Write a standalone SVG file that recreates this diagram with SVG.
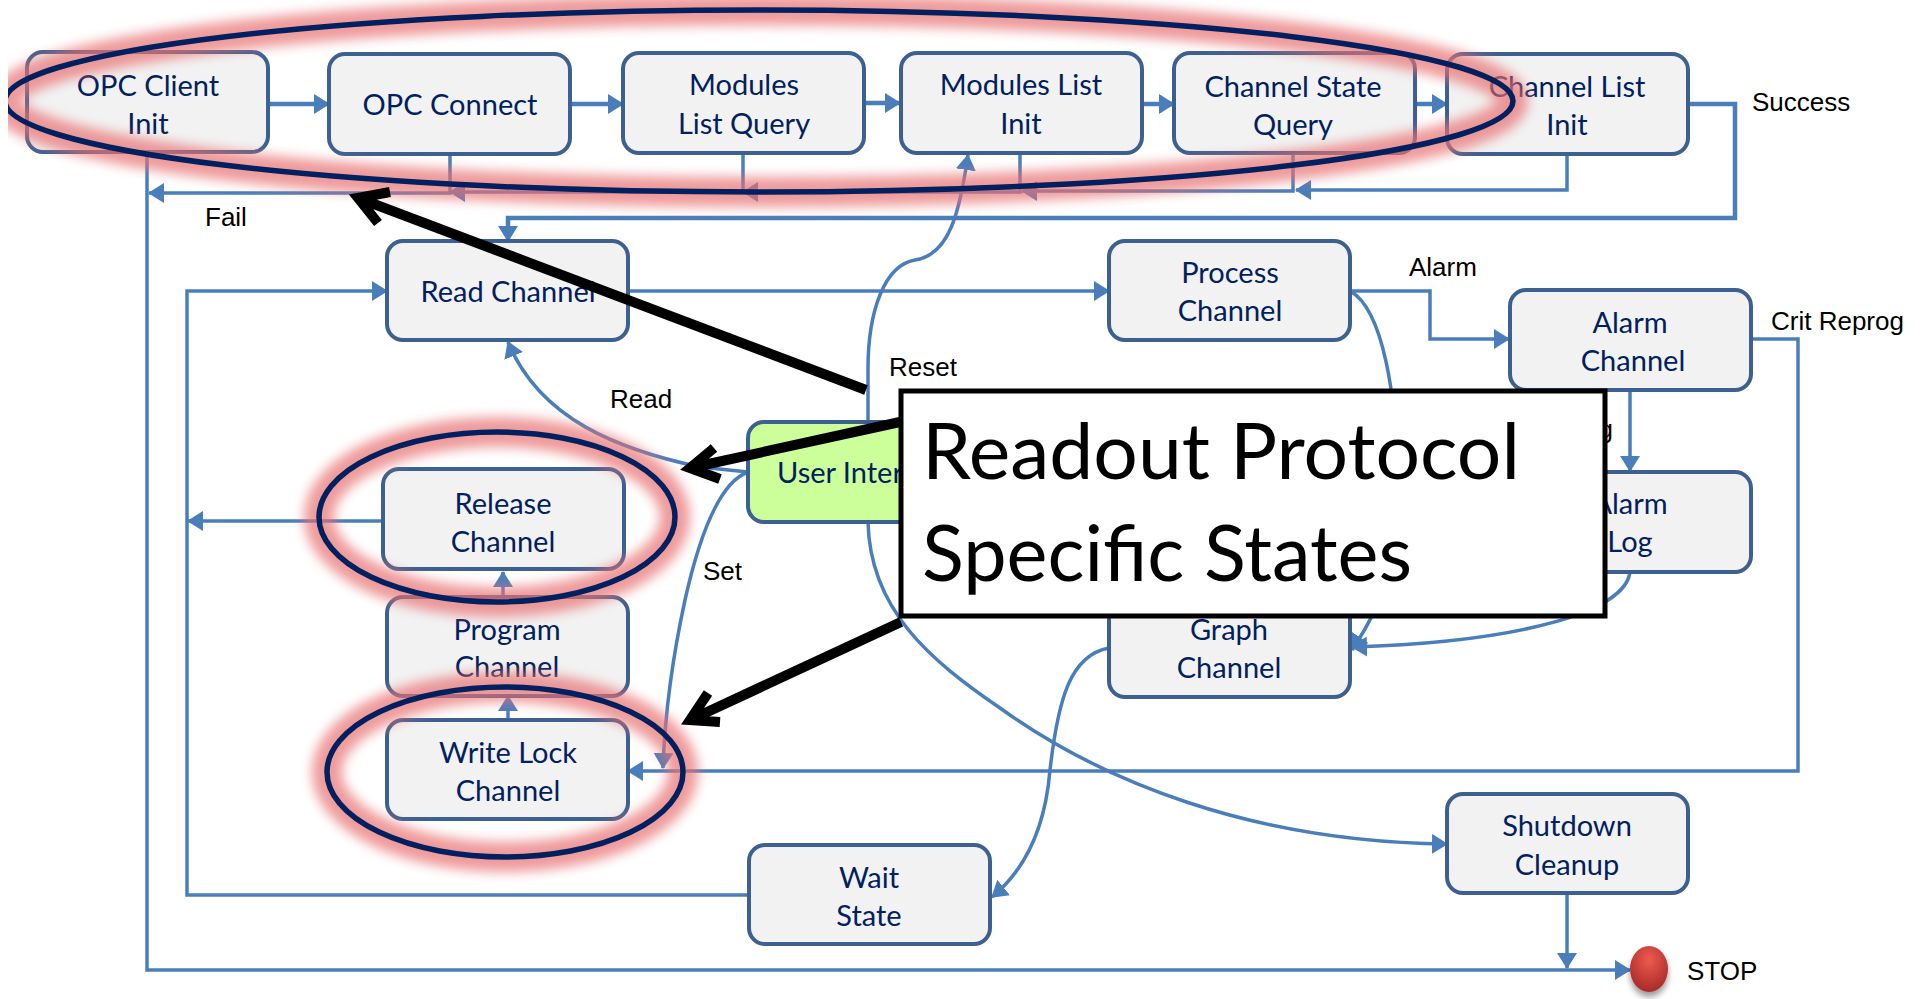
<svg xmlns="http://www.w3.org/2000/svg" width="1927" height="999" viewBox="0 0 1927 999">
<style>
.n{fill:#f2f2f2;stroke:#3c6090;stroke-width:4}
.t{font-family:Lato,"Liberation Sans",sans-serif;font-size:29px;fill:#002060;text-anchor:middle}
.l{font-family:"Liberation Sans",Arial,sans-serif;font-size:26px;fill:#000}
.c{fill:none;stroke:#4a7ebb;stroke-width:3.5}
.cb{fill:none;stroke:#4a7ebb;stroke-width:4.5}
.g{fill:none;stroke:#e86f6f;stroke-width:30;opacity:.7;filter:url(#b)}
.e{fill:none;stroke:#002060;stroke-width:5.5}
.k{fill:none;stroke:#000;stroke-width:10}
.big{font-family:Lato,"Liberation Sans",sans-serif;font-size:77px;fill:#000}
</style>
<defs>
<marker id="a" markerUnits="userSpaceOnUse" markerWidth="16" markerHeight="20" refX="15" refY="10" orient="auto"><path d="M0 0L16 10L0 20Z" fill="#4a7ebb"/></marker>
<filter id="b" x="-10%" y="-30%" width="120%" height="160%"><feGaussianBlur stdDeviation="6"/></filter>
<clipPath id="cp"><rect x="8" y="0" width="1919" height="999"/></clipPath>
<radialGradient id="r" cx=".5" cy=".3" r=".7"><stop offset="0" stop-color="#ee5a50"/><stop offset="1" stop-color="#a82a28"/></radialGradient>
<filter id="s" x="-30%" y="-30%" width="160%" height="170%"><feDropShadow dx="0" dy="5" stdDeviation="3" flood-color="#000" flood-opacity=".4"/></filter>
</defs>
<g id="connectors">
<path class="cb" d="M268 104H329" marker-end="url(#a)"/>
<path class="cb" d="M570 104H623" marker-end="url(#a)"/>
<path class="cb" d="M865 103H900" marker-end="url(#a)"/>
<path class="cb" d="M1142 104H1174" marker-end="url(#a)"/>
<path class="cb" d="M1415 104H1447" marker-end="url(#a)"/>
<path class="c" d="M1567 154V190H1296" marker-end="url(#a)"/>
<path class="c" d="M1293 153V191H1022" marker-end="url(#a)"/>
<path class="c" d="M1020 153V192H743" marker-end="url(#a)"/>
<path class="c" d="M743 153V192H450" marker-end="url(#a)"/>
<path class="c" d="M450 153V193H149" marker-end="url(#a)"/>
<path class="c" d="M147 152V970H1630" marker-end="url(#a)"/>
<path class="cb" d="M1687 104H1735V218H508V241" marker-end="url(#a)"/>
<path class="c" d="M628 291H1109" marker-end="url(#a)"/>
<path class="c" d="M1350 291H1430V339H1509" marker-end="url(#a)"/>
<path class="c" d="M1630 390V471" marker-end="url(#a)"/>
<path class="c" d="M1751 339H1798V771H628" marker-end="url(#a)"/>
<path class="c" d="M1350 291C1385 310 1395 400 1400 480C1402 540 1392 590 1352 650" marker-end="url(#a)"/>
<path class="c" d="M1630 572C1625 612 1520 642 1352 647" marker-end="url(#a)"/>
<path class="c" d="M748 472L700 467C620 450 540 420 508 342" marker-end="url(#a)"/>
<path class="c" d="M748 472C720 482 700 533 685 600C672 660 665 710 663 768" marker-end="url(#a)"/>
<path class="c" d="M868 421V369C868 310 885 265 915 260C950 255 960 210 968 155" marker-end="url(#a)"/>
<path class="c" d="M868 522C870 610 930 660 1000 708C1100 780 1250 842 1447 844" marker-end="url(#a)"/>
<path class="c" d="M1109 648C1070 655 1058 700 1050 770C1045 830 1025 870 992 897" marker-end="url(#a)"/>
<path class="c" d="M749 895H187V291H387" marker-end="url(#a)"/>
<path class="c" d="M383 521H188" marker-end="url(#a)"/>
<path class="c" d="M508 720V696" marker-end="url(#a)"/>
<path class="c" d="M503 597V572" marker-end="url(#a)"/>
<path class="c" d="M1567 894V968" marker-end="url(#a)"/>
</g>
<g id="opc-client"><rect class="n" x="27" y="52" width="241" height="100" rx="16"/><text class="t" x="148" y="96">OPC Client</text><text class="t" x="148" y="134">Init</text></g>
<g id="opc-connect"><rect class="n" x="329" y="54" width="241" height="100" rx="16"/><text class="t" x="450" y="115">OPC Connect</text></g>
<g id="modules-list-query"><rect class="n" x="623" y="53" width="241" height="100" rx="16"/><text class="t" x="744" y="95">Modules</text><text class="t" x="744" y="134">List Query</text></g>
<g id="modules-list-init"><rect class="n" x="901" y="53" width="241" height="100" rx="16"/><text class="t" x="1021" y="95">Modules List</text><text class="t" x="1021" y="134">Init</text></g>
<g id="channel-state-query"><rect class="n" x="1174" y="53" width="241" height="100" rx="16"/><text class="t" x="1293" y="97">Channel State</text><text class="t" x="1293" y="135">Query</text></g>
<g id="channel-list-init"><rect class="n" x="1447" y="54" width="241" height="100" rx="16"/><text class="t" x="1567" y="97">Channel List</text><text class="t" x="1567" y="135">Init</text></g>
<g id="read-channel"><rect class="n" x="387" y="241" width="241" height="99" rx="16"/><text class="t" x="508" y="302">Read Channel</text></g>
<g id="process-channel"><rect class="n" x="1109" y="241" width="241" height="99" rx="16"/><text class="t" x="1230" y="283">Process</text><text class="t" x="1230" y="321">Channel</text></g>
<g id="alarm-channel"><rect class="n" x="1510" y="290" width="241" height="100" rx="16"/><text class="t" x="1630" y="333">Alarm</text><text class="t" x="1633" y="371">Channel</text></g>
<g id="alarm-log"><rect class="n" x="1510" y="472" width="241" height="100" rx="16"/><text class="t" x="1630" y="514">Alarm</text><text class="t" x="1630" y="552">Log</text></g>
<g id="graph-channel"><rect class="n" x="1109" y="597" width="241" height="100" rx="16"/><text class="t" x="1229" y="640">Graph</text><text class="t" x="1229" y="678">Channel</text></g>
<g id="release-channel"><rect class="n" x="383" y="469" width="241" height="100" rx="16"/><text class="t" x="503" y="514">Release</text><text class="t" x="503" y="552">Channel</text></g>
<g id="program-channel"><rect class="n" x="387" y="597" width="241" height="99" rx="16"/><text class="t" x="507" y="640">Program</text><text class="t" x="507" y="677">Channel</text></g>
<g id="write-lock-channel"><rect class="n" x="387" y="720" width="241" height="99" rx="16"/><text class="t" x="508" y="763">Write Lock</text><text class="t" x="508" y="801">Channel</text></g>
<g id="user-interface"><rect x="748" y="422" width="241" height="100" rx="16" fill="#ccff99" stroke="#3c6090" stroke-width="4"/><text class="t" x="777" y="483" style="text-anchor:start">User Interface</text></g>
<g id="wait-state"><rect class="n" x="749" y="845" width="241" height="99" rx="16"/><text class="t" x="869" y="888">Wait</text><text class="t" x="869" y="926">State</text></g>
<g id="shutdown-cleanup"><rect class="n" x="1447" y="794" width="241" height="99" rx="16"/><text class="t" x="1567" y="836">Shutdown</text><text class="t" x="1567" y="875">Cleanup</text></g>
<g id="stop"><ellipse cx="1649" cy="969" rx="19" ry="23" fill="url(#r)" filter="url(#s)"/><text class="l" x="1687" y="980">STOP</text></g>
<g id="labels">
<text class="l" x="205" y="226">Fail</text>
<text class="l" x="1752" y="111">Success</text>
<text class="l" x="1409" y="276">Alarm</text>
<text class="l" x="1771" y="330">Crit Reprog</text>
<text class="l" x="610" y="408">Read</text>
<text class="l" x="889" y="376">Reset</text>
<text class="l" x="703" y="580">Set</text>
<text class="l" x="1613" y="438" text-anchor="end">Log</text>
</g>
<g id="highlights">
<g clip-path="url(#cp)"><ellipse class="g" cx="759" cy="101" rx="754" ry="91"/><ellipse class="e" cx="759" cy="101" rx="754" ry="91"/></g>
<ellipse class="g" cx="497" cy="517" rx="178" ry="85"/><ellipse class="e" cx="497" cy="517" rx="178" ry="85"/>
<ellipse class="g" cx="505" cy="772" rx="178" ry="85"/><ellipse class="e" cx="505" cy="772" rx="178" ry="85"/>
</g>
<g id="pointers">
<path class="k" d="M866 390L358 198M390 192L358 198L378 223"/>
<path class="k" d="M900 422L690 468M714 448L690 468L720 479"/>
<path class="k" d="M901 622L690 720M708 693L690 720L720 722"/>
</g>
<g id="callout"><rect x="901" y="391" width="704" height="225" fill="#fff" stroke="#000" stroke-width="5"/><text class="big" x="922" y="479" textLength="598" lengthAdjust="spacingAndGlyphs">Readout Protocol</text><text class="big" x="922" y="581" textLength="490" lengthAdjust="spacingAndGlyphs">Specific States</text></g>
</svg>
